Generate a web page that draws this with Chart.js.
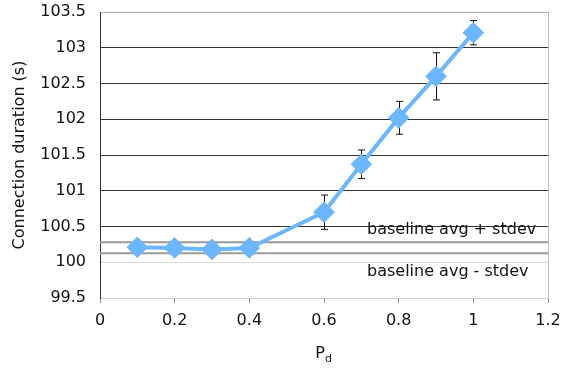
<!DOCTYPE html>
<html>
<head>
<meta charset="utf-8">
<script src="https://cdn.jsdelivr.net/npm/chart.js@4"></script>
<style>
  body { margin: 0; background: #fff; }
  #wrap { width: 585px; height: 369px; }
</style>
</head>
<body>
<div id="wrap"><canvas id="chart1"></canvas></div>
<script>
// values
const pd = [0.1, 0.2, 0.3, 0.4, 0.6, 0.7, 0.8, 0.9, 1.0];
const duration = [100.21, 100.2, 100.18, 100.2, 100.7, 101.37, 102.02, 102.6, 103.21];
const stdev = [0.04, 0.04, 0.04, 0.04, 0.24, 0.2, 0.23, 0.33, 0.17];
const baselineHigh = 100.28;
const baselineLow = 100.125;
const baselineLabels = ['baseline avg + stdev', 'baseline avg - stdev'];
const xRange = [0, 1.2];
const yRange = [99.5, 103.5];

const FONT = 'DejaVu Sans';
Chart.defaults.font.family = FONT;
Chart.defaults.font.size = 16;
Chart.defaults.color = '#111';

// error bars + annotations + x title with subscript
const extras = {
    id: 'extras',
    beforeDatasetsDraw(chart) {
        const ctx = chart.ctx;
        const xs = chart.scales.x, ys = chart.scales.y;
        ctx.save();
        ctx.strokeStyle = '#111';
        ctx.lineWidth = 1;
        pd.forEach((p, i) => {
            const x = Math.round(xs.getPixelForValue(p)) + 0.5;
            const top = ys.getPixelForValue(duration[i] + stdev[i]);
            const bot = ys.getPixelForValue(duration[i] - stdev[i]);
            ctx.beginPath();
            ctx.moveTo(x, top); ctx.lineTo(x, bot);
            ctx.moveTo(x - 3.5, top); ctx.lineTo(x + 3.5, top);
            ctx.moveTo(x - 3.5, bot); ctx.lineTo(x + 3.5, bot);
            ctx.stroke();
        });
        ctx.restore();
    },
    afterDraw(chart) {
        const ctx = chart.ctx;
        const area = chart.chartArea;
        const ys = chart.scales.y;
        ctx.save();
        // right border of the plot
        ctx.strokeStyle = '#bbb';
        ctx.lineWidth = 1;
        ctx.beginPath();
        ctx.moveTo(area.right + 0.5, area.top);
        ctx.lineTo(area.right + 0.5, area.bottom);
        ctx.stroke();

        ctx.fillStyle = '#111';
        ctx.font = '16px ' + FONT;
        ctx.textBaseline = 'middle';
        ctx.textAlign = 'left';
        ctx.fillText(baselineLabels[0], area.right - 181, ys.getPixelForValue(baselineHigh) - 12);
        ctx.fillText(baselineLabels[1], area.right - 181, ys.getPixelForValue(baselineLow) + 19);

        // x axis title "Pd"
        const cx = (area.left + area.right) / 2;
        ctx.textAlign = 'right';
        ctx.fillText('P', cx + 1, 354);
        ctx.font = '11px ' + FONT;
        ctx.textAlign = 'left';
        ctx.fillText('d', cx + 1, 359);
        ctx.restore();
    }
};

const ctx1 = document.getElementById('chart1').getContext('2d');
const myChart1 = new Chart(ctx1, {
    type: 'scatter',
    data: {
        datasets: [{
            label: 'duration',
            data: pd.map((p, i) => ({ x: p, y: duration[i] })),
            showLine: true,
            borderColor: '#6cb6ff',
            borderWidth: 4,
            pointStyle: 'rectRot',
            pointRadius: 8,
            pointBackgroundColor: '#6cb6ff',
            pointBorderColor: '#6cb6ff',
            order: 0
        }, {
            label: baselineLabels[0],
            data: [{ x: xRange[0], y: baselineHigh }, { x: xRange[1], y: baselineHigh }],
            showLine: true,
            borderColor: '#999',
            borderWidth: 2,
            pointRadius: 0,
            order: 1
        }, {
            label: baselineLabels[1],
            data: [{ x: xRange[0], y: baselineLow }, { x: xRange[1], y: baselineLow }],
            showLine: true,
            borderColor: '#999',
            borderWidth: 2,
            pointRadius: 0,
            order: 1
        }]
    },
    options: {
        responsive: true,
        maintainAspectRatio: false,
        animation: false,
        layout: { padding: { top: 10, right: 37, left: 0, bottom: 0 } },
        plugins: {
            legend: { display: false },
            tooltip: { enabled: false }
        },
        scales: {
            x: {
                type: 'linear',
                min: xRange[0],
                max: xRange[1],
                ticks: { stepSize: 0.2, padding: 8, color: '#111', callback: v => String(parseFloat(v.toFixed(2))) },
                grid: { drawOnChartArea: false, drawTicks: true, tickLength: 5, color: '#888' },
                border: { color: '#ccc' },
                afterFit(scale) { scale.height = 71; scale.paddingLeft = 0; scale.paddingRight = 0; }
            },
            y: {
                min: yRange[0],
                max: yRange[1],
                ticks: { stepSize: 0.5, padding: 14, color: '#111', callback: v => String(parseFloat(v.toFixed(2))) },
                grid: {
                    drawTicks: false,
                    color: c => {
                        const v = c.tick.value;
                        if (v >= 103.5) return '#aaa';
                        if (v <= 100) return '#d8d8d8';
                        return '#333';
                    }
                },
                border: { color: '#333' },
                title: { display: true, text: 'Connection duration (s)', padding: { top: 10, bottom: 0 } },
                afterFit(scale) { scale.width = 100; scale.paddingTop = 0; scale.paddingBottom = 0; }
            }
        }
    },
    plugins: [extras]
});
</script>
</body>
</html>
